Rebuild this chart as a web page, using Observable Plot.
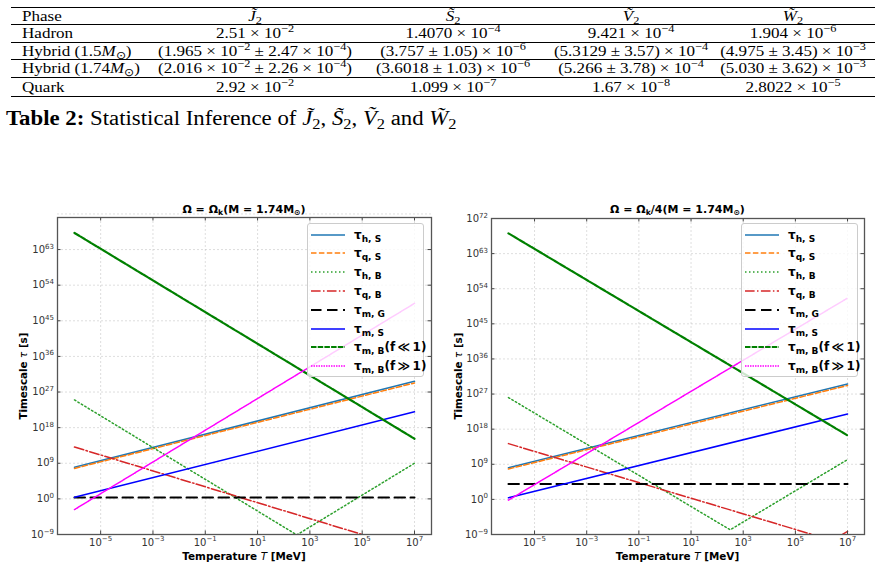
<!DOCTYPE html>
<html>
<head>
<meta charset="utf-8">
<script src="https://cdn.jsdelivr.net/npm/d3@7"></script>
<script src="https://cdn.jsdelivr.net/npm/@observablehq/plot@0.6"></script>
<style>
  body { margin: 0; background: #fff; }
  #page { position: relative; width: 881px; height: 580px; overflow: hidden; background: #fff; }
  .tex { font-family: "Liberation Serif", "Times New Roman", serif; color: #000; }
  .cell { position: absolute; white-space: nowrap; font-size: 15.5px; height: 14px; line-height: 14px; transform: translate(-50%, -50%) scaleX(1.1); }
  .cell.first { transform: translate(0, -50%) scaleX(1.1); transform-origin: left center; }
  .rule { position: absolute; left: 11px; width: 864px; background: #000; }
  .tex sup { font-size: 0.72em; vertical-align: 0.55em; line-height: 0; }
  .tex sub { font-size: 0.72em; vertical-align: -0.25em; line-height: 0; }
  .caption { position: absolute; left: 6px; top: 118px; height: 20px; line-height: 20px; transform: translateY(-50%) scaleX(1.14); transform-origin: left center; font-size: 20px; white-space: nowrap; }
  .sans { font-family: "DejaVu Sans", sans-serif; color: #000; }
  .chart { position: absolute; top: 195px; }
  .title { position: absolute; top: 209px; transform: translate(-50%, -50%); font-weight: bold; font-size: 11px; white-space: nowrap; }
  .title sub { font-size: 0.7em; vertical-align: -0.3em; line-height: 0; }
  .ylab { position: absolute; transform: translate(-50%, -50%) rotate(-90deg); font-weight: bold; font-size: 10.3px; white-space: nowrap; }
  .xlab { position: absolute; top: 556px; transform: translate(-50%, -50%); font-weight: bold; font-size: 10.4px; white-space: nowrap; }
  .legend { position: absolute; top: 223px; width: 115px; height: 152px; background: rgba(255,255,255,0.8);
            border: 1px solid #cccccc; border-radius: 3px; }
  .lrow { position: absolute; left: 3px; height: 16px; display: flex; align-items: center; transform: translateY(-50%); }
  .lrow svg { width: 34px; height: 8px; margin-right: 9px; }
  .lrow span { font-weight: bold; font-size: 12px; line-height: 14px; white-space: nowrap; }
  .lrow sub { font-size: 0.75em; vertical-align: -0.3em; line-height: 0; }
</style>
</head>
<body>
<div id="page"></div>
<script>
// ---------- Table 2 values ----------
const phaseLabels = ["Hadron", "Hybrid (1.5<i>M</i><sub>⊙</sub>)", "Hybrid (1.74<i>M</i><sub>⊙</sub>)", "Quark"];
const headers = ["Phase", "<i>J̃</i><sub>2</sub>", "<i>S̃</i><sub>2</sub>", "<i>Ṽ</i><sub>2</sub>", "<i>W̃</i><sub>2</sub>"];
const J2 = ["2.51 × 10^{−2}", "(1.965 × 10^{−2} ± 2.47 × 10^{−4})", "(2.016 × 10^{−2} ± 2.26 × 10^{−4})", "2.92 × 10^{−2}"];
const S2 = ["1.4070 × 10^{−4}", "(3.757 ± 1.05) × 10^{−6}", "(3.6018 ± 1.03) × 10^{−6}", "1.099 × 10^{−7}"];
const V2 = ["9.421 × 10^{−4}", "(5.3129 ± 3.57) × 10^{−4}", "(5.266 ± 3.78) × 10^{−4}", "1.67 × 10^{−8}"];
const W2 = ["1.904 × 10^{−6}", "(4.975 ± 3.45) × 10^{−3}", "(5.030 ± 3.62) × 10^{−3}", "2.8022 × 10^{−5}"];

// ---------- Timescale curves: knots in log10(T / MeV) and log10(tau / s) ----------
const tempTicks = [1e-5, 1e-3, 1e-1, 1e1, 1e3, 1e5, 1e7];
const tauTicks = [1e-9, 1e0, 1e9, 1e18, 1e27, 1e36, 1e45, 1e54, 1e63, 1e72];
const seriesKeys = ["hS", "qS", "hB", "qB", "mG", "mS", "mBlow", "mBhigh"];

// Omega = Omega_k
const kLogT = {hS: [-6, 7], qS: [-6, 7], hB: [-6, 2.5, 7], qB: [-6, 5], mG: [-6, 7], mS: [-6, 7], mBlow: [-6, 7], mBhigh: [-6, 7]};
const kLogTau = {hS: [8.0, 29.7], qS: [7.7, 29.3], hB: [25.0, -9.1, 9.0], qB: [13.1, -9.0], mG: [0.35, 0.35], mS: [0.4, 22.0], mBlow: [67.2, 15.2], mBhigh: [-2.7, 49.4]};
// Omega = Omega_k / 4
const qLogT = {hS: [-6, 7], qS: [-6, 7], hB: [-6, 2.5, 7], qB: [-6, 6.4, 7], mG: [-6, 7], mS: [-6, 7], mBlow: [-6, 7], mBhigh: [-6, 7]};
const qLogTau = {hS: [8.1, 29.6], qS: [7.8, 29.2], hB: [26.1, -7.8, 10.2], qB: [14.3, -10.5, -8.2], mG: [3.95, 3.95], mS: [0.4, 21.9], mBlow: [68.2, 16.4], mBhigh: [-0.2, 51.6]};

// ---------- line styles ----------
const styles = {
  hS:     {label: "h, S", color: "#1f77b4", width: 1.5, dash: null},
  qS:     {label: "q, S", color: "#ff7f0e", width: 1.5, dash: "5.5,2.4"},
  hB:     {label: "h, B", color: "#2ca02c", width: 1.5, dash: "1.5,2.5"},
  qB:     {label: "q, B", color: "#d62728", width: 1.5, dash: "9.6,2.4,1.5,2.4"},
  mG:     {label: "m, G", color: "#000000", width: 2,   dash: "10.5,5.5"},
  mS:     {label: "m, S", color: "#0000ff", width: 1.5, dash: null},
  mBlow:  {label: "m, B", extra: "(f\u2009≪\u20091)", color: "#008000", width: 2.2, dash: "5.5,1.2"},
  mBhigh: {label: "m, B", extra: "(f\u2009≫\u20091)", color: "#ff00ff", width: 1.5, dash: "1.5,1"}
};

const page = document.getElementById("page");
const texify = s => s.replace(/\^\{([^}]*)\}/g, "<sup>$1</sup>");

// ---------- table ----------
const rules = [[7, 1], [23.5, 1], [42.2, 1], [59, 1], [76.8, 1], [95.8, 1.4]];
rules.forEach(([y, h]) => {
  const r = document.createElement("div");
  r.className = "rule"; r.style.top = y + "px"; r.style.height = h + "px";
  page.appendChild(r);
});
const colX = [22, 255, 453, 631, 793];
const rowY = [15.7, 33.3, 51, 68.3, 86.5];
function cell(html, x, y, first) {
  const d = document.createElement("div");
  d.className = "cell tex" + (first ? " first" : "");
  d.style.left = x + "px"; d.style.top = y + "px";
  d.innerHTML = html;
  page.appendChild(d);
}
headers.forEach((h, j) => cell(h, colX[j], rowY[0], j === 0));
phaseLabels.forEach((p, i) => {
  cell(p, colX[0], rowY[i + 1], true);
  [J2, S2, V2, W2].forEach((col, j) => cell(texify(col[i]), colX[j + 1], rowY[i + 1], false));
});
const cap = document.createElement("div");
cap.className = "caption tex";
cap.innerHTML = "<b>Table 2:</b> Statistical Inference of <i>J̃</i><sub>2</sub>, <i>S̃</i><sub>2</sub>, <i>Ṽ</i><sub>2</sub> and <i>W̃</i><sub>2</sub>";
page.appendChild(cap);

// ---------- charts ----------
const NS = "http://www.w3.org/2000/svg";
function superscriptTicks(svg) {
  svg.querySelectorAll('g[aria-label$="tick label"] text').forEach(t => {
    const s = t.textContent;
    if (!s.includes("|")) return;
    const [b, e] = s.split("|");
    t.textContent = "";
    const t1 = document.createElementNS(NS, "tspan"); t1.textContent = b;
    const t2 = document.createElementNS(NS, "tspan"); t2.textContent = e;
    t2.setAttribute("font-size", "7"); t2.setAttribute("dy", "-4.2");
    t.append(t1, t2);
  });
}
const tickLabel = d => "10|" + String(Math.round(Math.log10(d))).replace("-", "−");

function panel(logT, logTau, yTop, o) {
  const rows = seriesKeys.flatMap(k => logT[k].map((lt, i) => ({key: k, T: 10 ** lt, tau: 10 ** logTau[k][i]})));
  const fw = o.width - o.ml - o.mr, fh = o.height - o.mt - o.mb;
  const tick = 3.5;
  const yTicks = tauTicks.filter(v => v <= 10 ** yTop);
  const svg = Plot.plot({
    width: o.width, height: o.height,
    marginLeft: o.ml, marginRight: o.mr, marginTop: o.mt, marginBottom: o.mb,
    style: {fontFamily: "DejaVu Sans, sans-serif", fontSize: "10px", color: "#333", background: "transparent"},
    x: {type: "log", domain: [10 ** -6.65, 10 ** 7.65], label: null},
    y: {type: "log", domain: [1e-9, 10 ** yTop], label: null},
    marks: [
      Plot.gridX(tempTicks, {stroke: "#b0b0b0", strokeOpacity: 0.7, strokeWidth: 0.6, strokeDasharray: "2,2"}),
      Plot.gridY(tauTicks, {stroke: "#b0b0b0", strokeOpacity: 0.7, strokeWidth: 0.6, strokeDasharray: "2,2"}),
      ...seriesKeys.map(k => Plot.line(rows.filter(r => r.key === k), {
        x: "T", y: "tau", stroke: styles[k].color, strokeWidth: styles[k].width,
        strokeDasharray: styles[k].dash, clip: true
      })),
      Plot.axisX(tempTicks, {anchor: "bottom", tickSize: 0, tickPadding: 4, tickFormat: tickLabel, fill: "#333", label: null}),
      Plot.axisY(yTicks, {anchor: "left", tickSize: 0, tickPadding: 3.5, tickFormat: tickLabel, fill: "#333", label: null}),
      Plot.tickX(tempTicks, {x: d => d, stroke: "#444", insetTop: fh - tick}),
      Plot.tickX(tempTicks, {x: d => d, stroke: "#444", insetBottom: fh - tick}),
      Plot.tickY(yTicks, {y: d => d, stroke: "#444", insetRight: fw - tick}),
      Plot.tickY(yTicks, {y: d => d, stroke: "#444", insetLeft: fw - tick}),
      Plot.frame({stroke: "#555", strokeWidth: 1.3})
    ]
  });
  superscriptTicks(svg);
  const wrap = document.createElement("div");
  wrap.className = "chart";
  wrap.style.left = o.left + "px";
  wrap.appendChild(svg);
  page.appendChild(wrap);

  const cx = o.left + o.ml + fw / 2, cy = 195 + o.mt + fh / 2;
  const title = document.createElement("div");
  title.className = "title sans"; title.style.left = cx + "px";
  title.innerHTML = o.title;
  page.appendChild(title);

  const yl = document.createElement("div");
  yl.className = "ylab sans"; yl.style.left = o.ylabX + "px"; yl.style.top = cy + "px";
  yl.innerHTML = "Timescale <span style='font-weight:normal;font-style:italic'>τ</span> [s]";
  page.appendChild(yl);

  const xl = document.createElement("div");
  xl.className = "xlab sans"; xl.style.left = cx + "px";
  xl.innerHTML = "Temperature <span style='font-weight:normal;font-style:italic'>T</span> [MeV]";
  page.appendChild(xl);

  const lg = document.createElement("div");
  lg.className = "legend sans"; lg.style.left = o.legendX + "px";
  seriesKeys.forEach((k, i) => {
    const s = styles[k];
    const row = document.createElement("div");
    row.className = "lrow"; row.style.top = (10.5 + i * 18.8) + "px";
    row.innerHTML = `<svg viewBox="0 0 34 8"><line x1="0" y1="4" x2="34" y2="4" stroke="${s.color}" stroke-width="${s.width}" ${s.dash ? `stroke-dasharray="${s.dash}"` : ""}/></svg>` +
      `<span>τ<sub>${s.label}</sub>${s.extra || ""}</span>`;
    lg.appendChild(row);
  });
  page.appendChild(lg);
}

panel(kLogT, kLogTau, 71.1, {
  left: 0, width: 440, height: 385, ml: 57, mr: 9, mt: 22, mb: 46,
  title: "Ω = Ω<sub>k</sub>(M = 1.74M<sub>⊙</sub>)", ylabX: 22.5, legendX: 307
});
panel(qLogT, qLogTau, 72, {
  left: 440, width: 441, height: 385, ml: 51, mr: 17, mt: 23, mb: 46,
  title: "Ω = Ω<sub>k</sub>/4(M = 1.74M<sub>⊙</sub>)", ylabX: 458, legendX: 741
});
</script>
</body>
</html>
